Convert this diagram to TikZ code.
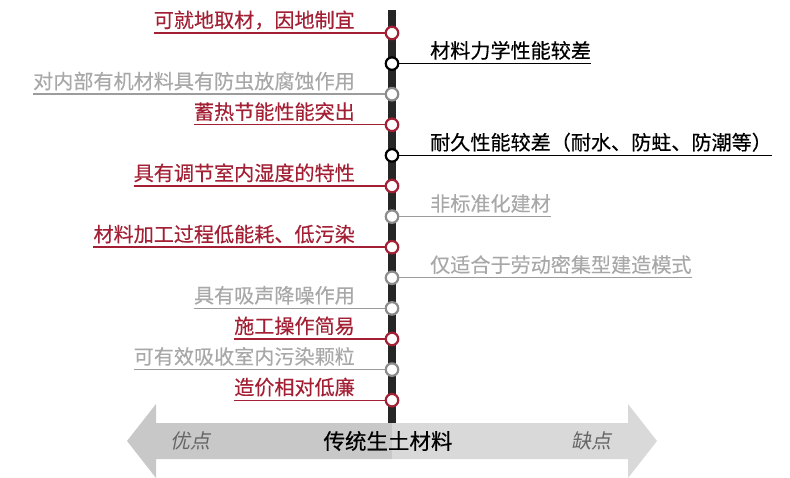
\documentclass[tikz,border=0pt]{standalone}
\usepackage{fontspec}
\newfontfamily\zh[FakeBold=0.3]{Noto Sans CJK SC}
\newfontfamily\zhsl[FakeSlant=0.2]{Noto Sans CJK SC}
\definecolor{prored}{HTML}{A31F34}
\definecolor{txtgray}{HTML}{A8A8A8}
\definecolor{linegray}{HTML}{9C9C9C}
\definecolor{dotgray}{HTML}{8C8C8C}
\definecolor{bargray}{HTML}{262626}
\definecolor{arrowdark}{HTML}{C8C8C8}
\definecolor{arrowlight}{HTML}{D9D9D9}

\begin{document}
\begin{tikzpicture}[
  x=1pt, y=-1pt,
  dot/.style={circle, fill=white, line width=2.2pt, minimum size=12.5pt, inner sep=0pt},
  lab/.style={font=\zh\fontsize{20.1}{24}\selectfont, inner sep=0pt},
  leftlab/.style={lab, anchor=base east},
  rightlab/.style={lab, anchor=base west},
  tie/.style={line width=1.4pt}
]
\useasboundingbox (0,0) rectangle (790,478);
% axis
\coordinate (top) at (392,10);
\coordinate (bot) at (392,423);
\draw[bargray, line width=7.5pt] (top) -- (bot);
% dots on the axis
\node[dot, draw=prored] (p0) at (392,33) {};
\node[dot, draw=black] (p1) at (392,63.6) {};
\node[dot, draw=dotgray] (p2) at (392,94.2) {};
\node[dot, draw=prored] (p3) at (392,124.8) {};
\node[dot, draw=black] (p4) at (392,155.4) {};
\node[dot, draw=prored] (p5) at (392,186) {};
\node[dot, draw=dotgray] (p6) at (392,216.6) {};
\node[dot, draw=prored] (p7) at (392,247.2) {};
\node[dot, draw=dotgray] (p8) at (392,277.8) {};
\node[dot, draw=dotgray] (p9) at (392,308.4) {};
\node[dot, draw=prored] (p10) at (392,339) {};
\node[dot, draw=dotgray] (p11) at (392,369.6) {};
\node[dot, draw=prored] (p12) at (392,400.2) {};
% labels
\node[leftlab, text=prored] (local) at (355,27.5) {可就地取材，因地制宜};
\node[rightlab, text=black] (mech) at (430,58.1) {材料力学性能较差};
\node[leftlab, text=txtgray] (insect) at (355,88.7) {对内部有机材料具有防虫放腐蚀作用};
\node[leftlab, text=prored] (heat) at (355,119.3) {蓄热节能性能突出};
\node[rightlab, text=black] (durab) at (430,149.9) {耐久性能较差（耐水、防蛀、防潮等）};
\node[leftlab, text=prored] (humid) at (355,180.5) {具有调节室内湿度的特性};
\node[rightlab, text=txtgray] (nonstd) at (430,211.1) {非标准化建材};
\node[leftlab, text=prored] (lowen) at (355,241.7) {材料加工过程低能耗、低污染};
\node[rightlab, text=txtgray] (labor) at (430,272.3) {仅适合于劳动密集型建造模式};
\node[leftlab, text=txtgray] (sound) at (355,302.9) {具有吸声降噪作用};
\node[leftlab, text=prored] (easy) at (355,333.5) {施工操作简易};
\node[leftlab, text=txtgray] (absorb) at (355,364.1) {可有效吸收室内污染颗粒};
\node[leftlab, text=prored] (cheap) at (355,394.7) {造价相对低廉};
% underlines
\draw[tie, prored] (local.west |- p0) -- (p0);
\draw[tie, black] (p1) -- (mech.east |- p1);
\draw[tie, linegray] (insect.west |- p2) -- (p2);
\draw[tie, prored] (heat.west |- p3) -- (p3);
\draw[tie, black] (p4) -- (durab.east |- p4);
\draw[tie, prored] (humid.west |- p5) -- (p5);
\draw[tie, linegray] (p6) -- (nonstd.east |- p6);
\draw[tie, prored] (lowen.west |- p7) -- (p7);
\draw[tie, linegray] (p8) -- (labor.east |- p8);
\draw[tie, linegray] (sound.west |- p9) -- (p9);
\draw[tie, prored] (easy.west |- p10) -- (p10);
\draw[tie, linegray] (absorb.west |- p11) -- (p11);
\draw[tie, prored] (cheap.west |- p12) -- (p12);
% double arrow
\fill[arrowdark] (127,441) -- (156,404) -- (156,423) -- (392,423) -- (392,459)
  -- (156,459) -- (156,478) -- cycle;
\fill[arrowlight] (392,423) -- (628,423) -- (628,404) -- (657,441) -- (628,478)
  -- (628,459) -- (392,459) -- cycle;
\node[font=\zh\fontsize{21.5}{24}\selectfont] (title) at (388,441) {传统生土材料};
\node[font=\zhsl\fontsize{20}{24}\selectfont, text=black!60] (pros) at (190,441) {优点};
\node[font=\zhsl\fontsize{20}{24}\selectfont, text=black!60] (cons) at (591,441) {缺点};
\end{tikzpicture}
\end{document}
